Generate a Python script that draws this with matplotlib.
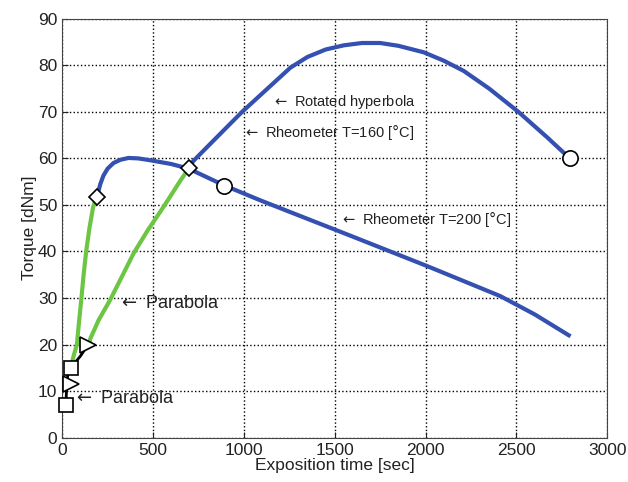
import numpy as np
import matplotlib
matplotlib.use('Agg')
import matplotlib.pyplot as plt

plt.rcParams['font.family'] = ['Liberation Sans', 'DejaVu Sans']

# Rheometer T=160 [C] (rotated hyperbola)
t160_x = [696, 723, 850, 990, 1130, 1256, 1350, 1450, 1550, 1650, 1750, 1850,
          1990, 2100, 2210, 2350, 2511, 2670, 2794]
t160_y = [58, 59.5, 64.5, 70, 75, 79.5, 81.8, 83.4, 84.3, 84.8, 84.8, 84.2,
          82.8, 81, 78.8, 75, 70, 64.5, 60]

# Rheometer T=200 [C]
t200_x = [194, 200, 210, 227, 250, 282, 320, 365, 420, 485, 600, 696, 892,
          1090, 1586, 2000, 2200, 2412, 2600, 2788]
t200_y = [51.5, 53, 54.5, 56.3, 57.8, 59, 59.7, 60.1, 60, 59.6, 58.8, 57.8,
          54.2, 51, 43.4, 37, 33.8, 30.4, 26.5, 22]

# parabolas
par1_x = [45, 53, 66, 81, 93, 106, 118, 132, 150, 170, 191]
par1_y = [14, 16, 18, 20, 25, 30, 35, 40, 45, 49.5, 52]
par2_x = [150, 154, 200, 264, 330, 393, 470, 558, 650, 696]
par2_y = [20, 21.2, 25.2, 29.6, 34.7, 39.6, 44.5, 49.6, 55.2, 57.8]

# start segment
start_x = [20, 25, 32, 46, 100, 143]
start_y = [7, 11, 14, 15, 17.5, 20]

# markers
sq_x, sq_y = [20, 46], [7, 15]
tri_x, tri_y = [50, 143], [11.5, 20]
dia_x, dia_y = [194, 696], [51.8, 58]
circ_x, circ_y = [892, 2794], [54, 60]

blue = '#3450b0'
green = '#6cc644'

fig = plt.figure(figsize=(6.28, 4.82), dpi=100)
ax = fig.add_axes([0.099, 0.092, 0.868, 0.869])

ax.plot(par1_x, par1_y, color=green, lw=3, zorder=3)
ax.plot(par2_x, par2_y, color=green, lw=3, zorder=3)
ax.plot(t200_x, t200_y, color=blue, lw=3, zorder=4)
ax.plot(t160_x, t160_y, color=blue, lw=3, zorder=4)
ax.plot(start_x, start_y, color='black', lw=2, zorder=4)

mk = dict(ls='none', mfc='white', mec='black', mew=1.2, zorder=6, clip_on=False)
ax.plot(sq_x, sq_y, marker='s', ms=10, **mk)
ax.plot(tri_x, tri_y, marker='>', ms=11, **mk)
ax.plot(dia_x, dia_y, marker='D', ms=8, **mk)
ax.plot(circ_x, circ_y, marker='o', ms=11, **mk)

ax.set_xlim(0, 3000)
ax.set_ylim(0, 90)
ax.set_xticks(np.arange(0, 3001, 500))
ax.set_yticks(np.arange(0, 91, 10))
ax.grid(True, color='black', ls=':', lw=1)
ax.set_axisbelow(True)
ax.tick_params(direction='in', length=4, labelsize=12.5, colors='#222222')
for s in ax.spines.values():
    s.set_color('#444444')

ax.set_xlabel('Exposition time [sec]', fontsize=12.5, labelpad=0, color='#222222')
ax.set_ylabel('Torque [dNm]', fontsize=12.5, labelpad=1, color='#222222')

tk = dict(fontsize=10.5, va='center', ha='left', color='#222222', zorder=7)
ax.text(1156, 72.2, r'$\leftarrow$ Rotated hyperbola', **tk)
ax.text(997, 65.7, r'$\leftarrow$ Rheometer T=160 [$\degree$C]', **tk)
ax.text(1531, 47, r'$\leftarrow$ Rheometer T=200 [$\degree$C]', **tk)
tk['fontsize'] = 13
ax.text(308, 28.8, r'$\leftarrow$ Parabola', **tk)
ax.text(60, 8.5, r'$\leftarrow$ Parabola', **tk)

fig.savefig('out.png', dpi=100)
